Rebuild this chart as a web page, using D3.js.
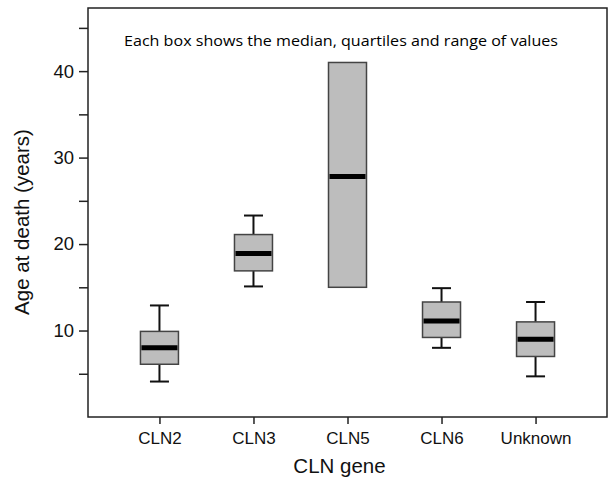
<!DOCTYPE html>
<html>
<head>
<meta charset="utf-8">
<script src="https://cdn.jsdelivr.net/npm/d3@7"></script>
<style>
  body { margin: 0; background: #fff; }
  svg { display: block; }
  .tick text { font-family: "Liberation Sans", Arial, sans-serif; fill: #111; }
</style>
</head>
<body>
<svg id="chart" width="610" height="480"></svg>
<script>
// values (years)
var genes   = ["CLN2", "CLN3", "CLN5", "CLN6", "Unknown"];
var mins    = [4.1, 15.1, 15, 8.0, 4.7];
var q1s     = [6.1, 16.9, 15, 9.2, 7.0];
var medians = [8.0, 18.9, 27.8, 11.1, 9.0];
var q3s     = [9.9, 21.1, 41, 13.3, 11.0];
var maxs    = [12.9, 23.3, 41, 14.9, 13.3];
var majorTicks = [10, 20, 30, 40];
var minorTicks = [5, 15, 25, 35, 45];

var boxes = genes.map(function(g, i) {
  return {gene: g, min: mins[i], q1: q1s[i], med: medians[i], q3: q3s[i], max: maxs[i]};
});

var svg = d3.select("#chart"),
    margin = {top: 8, right: 3, bottom: 63, left: 88},
    width = svg.attr("width") - margin.left - margin.right,
    height = svg.attr("height") - margin.top - margin.bottom,
    g = svg.append("g").attr("transform", "translate(" + margin.left + "," + margin.top + ")");

var x = d3.scalePoint().domain(genes).range([0, width]).padding(0.76),
    y = d3.scaleLinear().domain([0, 47.3]).range([height, 0]);

var boxW = 38, capW = 19;

// frame
g.append("rect")
  .attr("width", width)
  .attr("height", height)
  .attr("fill", "none")
  .attr("stroke", "#222")
  .attr("stroke-width", 1.5);

// axes
var yAxis = g.append("g")
  .attr("class", "axis axis--y")
  .call(d3.axisLeft(y).tickValues(majorTicks).tickSize(9).tickPadding(5).tickFormat(d3.format("d")));
yAxis.select(".domain").remove();
yAxis.selectAll("line").attr("stroke", "#222").attr("stroke-width", 1.5);
yAxis.selectAll("text").style("font-size", "18.5px");

g.append("g")
  .attr("class", "axis axis--y-minor")
  .call(d3.axisLeft(y).tickValues(minorTicks).tickSize(9).tickFormat(""))
  .call(function(s) {
    s.select(".domain").remove();
    s.selectAll("line").attr("stroke", "#222").attr("stroke-width", 1.5);
  });

var xAxis = g.append("g")
  .attr("class", "axis axis--x")
  .attr("transform", "translate(0," + height + ")")
  .call(d3.axisBottom(x).tickSize(7).tickPadding(8));
xAxis.select(".domain").remove();
xAxis.selectAll("line").attr("stroke", "#222").attr("stroke-width", 1.5);
xAxis.selectAll("text").style("font-size", "17px");

// boxes
var box = g.selectAll(".box")
  .data(boxes)
  .enter().append("g")
    .attr("class", "box")
    .attr("transform", function(d) { return "translate(" + x(d.gene) + ",0)"; });

box.filter(function(d) { return d.max > d.q3; })
  .append("line")
    .attr("y1", function(d) { return y(d.q3); })
    .attr("y2", function(d) { return y(d.max); })
    .attr("stroke", "#111").attr("stroke-width", 2);

box.filter(function(d) { return d.min < d.q1; })
  .append("line")
    .attr("y1", function(d) { return y(d.q1); })
    .attr("y2", function(d) { return y(d.min); })
    .attr("stroke", "#111").attr("stroke-width", 2);

box.filter(function(d) { return d.max > d.q3; })
  .append("line")
    .attr("x1", -capW / 2).attr("x2", capW / 2)
    .attr("y1", function(d) { return y(d.max); })
    .attr("y2", function(d) { return y(d.max); })
    .attr("stroke", "#111").attr("stroke-width", 2);

box.filter(function(d) { return d.min < d.q1; })
  .append("line")
    .attr("x1", -capW / 2).attr("x2", capW / 2)
    .attr("y1", function(d) { return y(d.min); })
    .attr("y2", function(d) { return y(d.min); })
    .attr("stroke", "#111").attr("stroke-width", 2);

box.append("rect")
  .attr("x", -boxW / 2)
  .attr("width", boxW)
  .attr("y", function(d) { return y(d.q3); })
  .attr("height", function(d) { return y(d.q1) - y(d.q3); })
  .attr("fill", "#bdbdbd")
  .attr("stroke", "#444")
  .attr("stroke-width", 1.5);

box.append("line")
  .attr("x1", -boxW / 2 + 1).attr("x2", boxW / 2 - 1)
  .attr("y1", function(d) { return y(d.med); })
  .attr("y2", function(d) { return y(d.med); })
  .attr("stroke", "#000")
  .attr("stroke-width", 5);

// note
g.append("text")
  .attr("x", 124 - margin.left)
  .attr("y", 46 - margin.top)
  .attr("textLength", 434)
  .attr("lengthAdjust", "spacingAndGlyphs")
  .style("font-family", "'Open Sans', sans-serif")
  .style("font-size", "15px")
  .attr("fill", "#000")
  .text("Each box shows the median, quartiles and range of values");

// axis titles
svg.append("text")
  .attr("x", margin.left + width / 2 - 8)
  .attr("y", 473)
  .attr("text-anchor", "middle")
  .style("font-family", "'Liberation Sans', Arial, sans-serif")
  .style("font-size", "20.5px")
  .attr("fill", "#111")
  .text("CLN gene");

svg.append("text")
  .attr("transform", "translate(29,222) rotate(-90)")
  .attr("text-anchor", "middle")
  .style("font-family", "'Liberation Sans', Arial, sans-serif")
  .style("font-size", "20.5px")
  .attr("fill", "#111")
  .text("Age at death (years)");
</script>
</body>
</html>
